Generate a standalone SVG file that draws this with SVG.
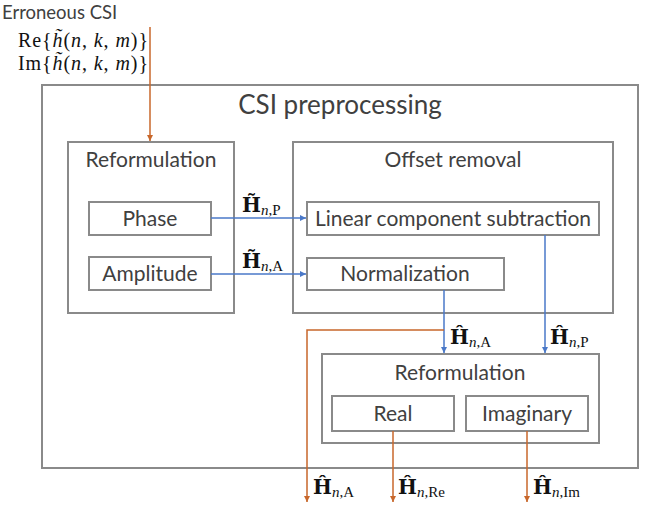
<svg xmlns="http://www.w3.org/2000/svg" width="651" height="506" viewBox="0 0 651 506">
<style>
.box{fill:#fff;stroke:#8a8a8a;stroke-width:2}
.t{font-family:Lato,"Open Sans",sans-serif;fill:#404040;text-anchor:middle}
.bt{font-size:21px}
.m{font-family:"DejaVu Serif","Liberation Serif",serif;fill:#111}
.H{font-size:20px;font-weight:bold}
.s{font-family:"Liberation Serif",serif;font-size:15px}
.o{stroke:#C8672B;stroke-width:1.5;fill:none}
.b{stroke:#4A78C8;stroke-width:1.5;fill:none}
</style>
<defs>
<marker id="ao" markerWidth="7" markerHeight="7" refX="6" refY="3.5" orient="auto" markerUnits="userSpaceOnUse"><path d="M0,0.5 L6,3.5 L0,6.5 Z" fill="#C8672B"/></marker>
<marker id="ab" markerWidth="7" markerHeight="7" refX="6" refY="3.5" orient="auto" markerUnits="userSpaceOnUse"><path d="M0,0.5 L6,3.5 L0,6.5 Z" fill="#4A78C8"/></marker>
</defs>
<text x="2" y="19" font-size="18.5" class="t" style="text-anchor:start">Erroneous CSI</text>
<text font-family="Liberation Serif,serif" fill="#111" x="18" y="47" font-size="20" textLength="130" lengthAdjust="spacing">Re{<tspan font-style="italic">h̃</tspan>(<tspan font-style="italic">n</tspan>, <tspan font-style="italic">k</tspan>, <tspan font-style="italic">m</tspan>)}</text>
<text font-family="Liberation Serif,serif" fill="#111" x="18" y="70" font-size="20" textLength="130" lengthAdjust="spacing">Im{<tspan font-style="italic">h̃</tspan>(<tspan font-style="italic">n</tspan>, <tspan font-style="italic">k</tspan>, <tspan font-style="italic">m</tspan>)}</text>
<g id="outer"><rect class="box" x="42" y="85" width="596" height="383"/>
<text class="t" x="340" y="114" font-size="26">CSI preprocessing</text></g>
<g id="reform1"><rect class="box" x="68" y="142" width="166" height="171"/>
<text class="t bt" x="151" y="167">Reformulation</text></g>
<g id="offset"><rect class="box" x="293" y="142" width="320" height="171"/>
<text class="t bt" x="453" y="167">Offset removal</text></g>
<g id="phase"><rect class="box" x="89" y="202" width="122" height="33"/>
<text class="t bt" x="150" y="226">Phase</text></g>
<g id="amplitude"><rect class="box" x="89" y="257" width="122" height="33"/>
<text class="t bt" x="150" y="281">Amplitude</text></g>
<g id="linear"><rect class="box" x="307" y="202" width="292" height="33"/>
<text class="t bt" x="453" y="226">Linear component subtraction</text></g>
<g id="normalization"><rect class="box" x="307" y="258" width="197" height="32"/>
<text class="t bt" x="405" y="281">Normalization</text></g>
<g id="reform2"><rect class="box" x="322" y="354" width="277" height="89"/>
<text class="t bt" x="460" y="380">Reformulation</text></g>
<g id="real"><rect class="box" x="332" y="396" width="122" height="35"/>
<text class="t bt" x="393" y="421">Real</text></g>
<g id="imaginary"><rect class="box" x="466" y="396" width="122" height="35"/>
<text class="t bt" x="527" y="421">Imaginary</text></g>
<g id="connectors">
<line class="o" x1="150" y1="27" x2="150" y2="141" marker-end="url(#ao)"/>
<line class="b" x1="211" y1="218" x2="306" y2="218" marker-end="url(#ab)"/>
<line class="b" x1="211" y1="274" x2="306" y2="274" marker-end="url(#ab)"/>
<line class="b" x1="444" y1="290" x2="444" y2="353" marker-end="url(#ab)"/>
<line class="b" x1="545" y1="235" x2="545" y2="353" marker-end="url(#ab)"/>
<polyline class="o" points="444,330 307,330 307,502" marker-end="url(#ao)"/>
<line class="o" x1="393" y1="431" x2="393" y2="502" marker-end="url(#ao)"/>
<line class="o" x1="527" y1="431" x2="527" y2="502" marker-end="url(#ao)"/>
</g>
<g id="labels" class="m">
<text x="242" y="212"><tspan class="H">H̃</tspan><tspan class="s" dy="3"><tspan font-style="italic">n</tspan>,P</tspan></text>
<text x="242" y="268"><tspan class="H">H̃</tspan><tspan class="s" dy="3"><tspan font-style="italic">n</tspan>,A</tspan></text>
<text x="450" y="344"><tspan class="H">Ĥ</tspan><tspan class="s" dy="3"><tspan font-style="italic">n</tspan>,A</tspan></text>
<text x="550" y="344"><tspan class="H">Ĥ</tspan><tspan class="s" dy="3"><tspan font-style="italic">n</tspan>,P</tspan></text>
<text x="313" y="494"><tspan class="H">Ĥ</tspan><tspan class="s" dy="3"><tspan font-style="italic">n</tspan>,A</tspan></text>
<text x="398" y="494"><tspan class="H">Ĥ</tspan><tspan class="s" dy="3"><tspan font-style="italic">n</tspan>,Re</tspan></text>
<text x="533" y="494"><tspan class="H">Ĥ</tspan><tspan class="s" dy="3"><tspan font-style="italic">n</tspan>,Im</tspan></text>
</g>
</svg>
